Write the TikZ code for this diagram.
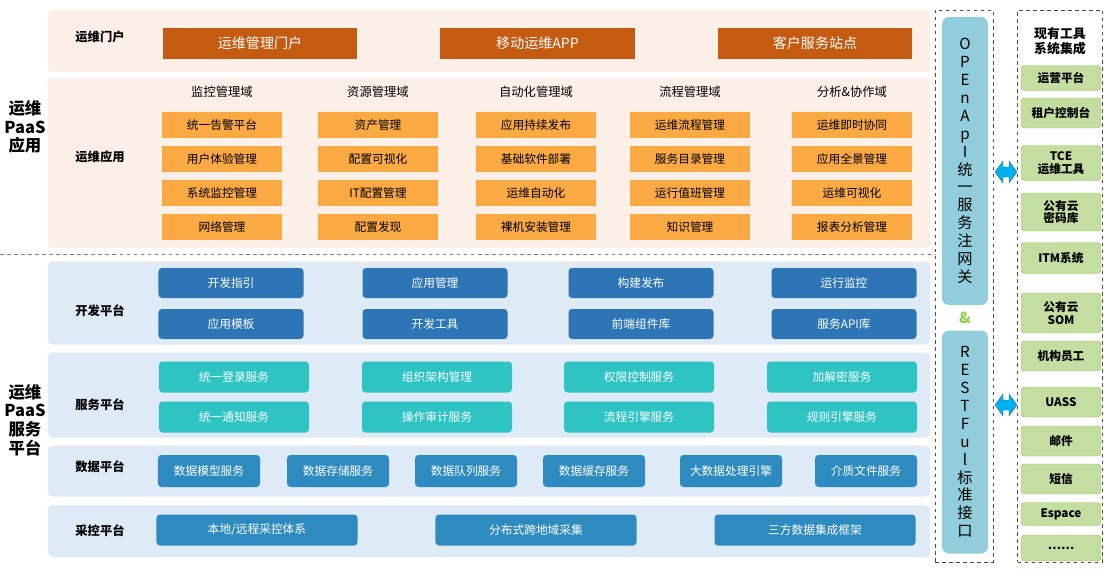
\documentclass[tikz,border=0pt]{standalone}
\usepackage{fontspec}
\setmainfont{Noto Sans CJK SC}
\usetikzlibrary{arrows.meta, positioning, calc}

\definecolor{peach}{HTML}{FCEFE7}
\definecolor{paleblue}{HTML}{DEEAF6}
\definecolor{rust}{HTML}{C55A11}
\definecolor{amber}{HTML}{FBA942}
\definecolor{navy}{HTML}{2E75B6}
\definecolor{teal}{HTML}{2EC4C4}
\definecolor{midblue}{HTML}{2E8BC0}
\definecolor{gate}{HTML}{92CDDC}
\definecolor{leaf}{HTML}{C4DDA0}
\definecolor{leafline}{HTML}{92D050}
\definecolor{sky}{HTML}{00B0F0}

\begin{document}
\begin{tikzpicture}[
  x=0.03cm, y=-0.03cm,
  panel/.style = {fill=#1, draw=none, rounded corners=4pt},
  box/.style = {fill=#1, draw=none, text=white, font=\fontsize{10}{12}\selectfont, inner sep=0pt},
  abox/.style = {fill=amber, draw=none, font=\fontsize{10}{12}\selectfont, inner sep=0pt,
    minimum width=3.6cm, minimum height=0.78cm},
  lbl/.style = {font=\bfseries\fontsize{10.5}{12}\selectfont},
  big/.style = {font=\bfseries\fontsize{14}{16}\selectfont, align=center},
  tool/.style = {fill=leaf, draw=leafline, rounded corners=3pt, font=\bfseries\fontsize{10}{11}\selectfont,
    align=center, inner sep=0pt, minimum width=2.4cm},
  dashbox/.style = {draw=black!70, dashed, thick},
  link/.style = {fill=sky, draw=navy, line join=miter}
]
\useasboundingbox (0,0) rectangle (1109,575);

% panels
\node[panel=peach, minimum width=26.46cm, minimum height=1.86cm] (portal) at (489,41) {};
\node[panel=peach, minimum width=26.46cm, minimum height=5.1cm] (apps) at (489,163) {};
\node[panel=paleblue, minimum width=26.46cm, minimum height=2.49cm] (dev) at (489,303) {};
\node[panel=paleblue, minimum width=26.46cm, minimum height=2.55cm] (svc) at (489,395) {};
\node[panel=paleblue, minimum width=26.46cm, minimum height=1.53cm] (data) at (489,471) {};
\node[panel=paleblue, minimum width=26.46cm, minimum height=1.56cm] (ctrl) at (489,531) {};
\draw[dashed, gray] (0,254) -- (935,254);

% left titles
\node[big] (paasapp) at (25,127) {运维\\PaaS\\应用};
\node[big] (paassvc) at (25,420) {运维\\PaaS\\服务\\平台};
\node[lbl] (lportal) at (100,37) {运维门户};
\node[lbl] (lapps) at (100,157) {运维应用};
\node[lbl] (ldev) at (100,311) {开发平台};
\node[lbl] (lsvc) at (100,405) {服务平台};
\node[lbl] (ldata) at (100,467) {数据平台};
\node[lbl] (lctrl) at (100,531) {采控平台};

% portal
\foreach \t [count=\i] in {运维管理门户, 移动运维APP, 客户服务站点}
  \node[box=rust, minimum width=5.84cm, minimum height=0.93cm, font=\fontsize{12}{14}\selectfont]
    (p\i) at ({260+(\i-1)*277.5},43) {\t};

% application domains
\foreach \x/\h/\a/\b/\c/\d [count=\i] in {
  222/监控管理域/统一告警平台/用户体验管理/系统监控管理/网络管理,
  378/资源管理域/资产管理/配置可视化/IT配置管理/配置发现,
  536/自动化管理域/应用持续发布/基础软件部署/运维自动化/裸机安装管理,
  690/流程管理域/运维流程管理/服务目录管理/运行值班管理/知识管理,
  852/分析\&协作域/运维即时协同/应用全景管理/运维可视化/报表分析管理} {
  \node[font=\fontsize{10.5}{12}\selectfont] (dom\i) at (\x,92) {\h};
  \node[abox] (a\i1) at (\x,125) {\a};
  \node[abox] (a\i2) at (\x,159) {\b};
  \node[abox] (a\i3) at (\x,193) {\c};
  \node[abox] (a\i4) at (\x,227) {\d};
}

% dev platform
\foreach \x/\a/\b [count=\i] in {231/开发指引/应用模板, 435/应用管理/开发工具,
  641/构建发布/前端组件库, 844/运行监控/服务API库} {
  \node[box=navy, rounded corners=3pt, minimum width=4.35cm, minimum height=0.9cm] (d\i1) at (\x,283) {\a};
  \node[box=navy, rounded corners=3pt, minimum width=4.35cm, minimum height=0.9cm] (d\i2) at (\x,324) {\b};
}

% service platform
\foreach \x/\a/\b [count=\i] in {234/统一登录服务/统一通知服务, 437/组织架构管理/操作审计服务,
  639/权限控制服务/流程引擎服务, 842/加解密服务/规则引擎服务} {
  \node[box=teal, rounded corners=3pt, minimum width=4.5cm, minimum height=0.93cm] (s\i1) at (\x,377) {\a};
  \node[box=teal, rounded corners=3pt, minimum width=4.5cm, minimum height=0.93cm] (s\i2) at (\x,417) {\b};
}

% data platform
\foreach \x/\t [count=\i] in {209/数据模型服务, 338/数据存储服务, 466/数据队列服务,
  594/数据缓存服务, 731/大数据处理引擎, 866/介质文件服务}
  \node[box=midblue, rounded corners=3pt, minimum width=3.06cm, minimum height=0.96cm] (m\i) at (\x,471) {\t};

% control platform
\foreach \x/\t [count=\i] in {257/{本地/远程采控体系}, 536/分布式跨地域采集, 815/三方数据集成框架}
  \node[box=midblue, rounded corners=3pt, minimum width=6.03cm, minimum height=0.93cm] (c\i) at (\x,530) {\t};

% gateway column
\node[dashbox, minimum width=1.74cm, minimum height=16.56cm] (gwframe) at (964,286) {};
\node[fill=gate, rounded corners=6pt, minimum width=1.38cm, minimum height=8.64cm, inner sep=0pt,
  font=\fontsize{13}{15.3}\selectfont, align=center] (gw1) at (965,161)
  {O\\P\\E\\n\\A\\p\\I\\统\\一\\服\\务\\注\\网\\关};
\node[font=\bfseries\fontsize{13}{14}\selectfont, text=leafline] (amp) at (965,318) {\&};
\node[fill=gate, rounded corners=6pt, minimum width=1.38cm, minimum height=6.69cm, inner sep=0pt,
  font=\fontsize{13}{15.3}\selectfont, align=center] (gw2) at (965,442)
  {R\\E\\S\\T\\F\\u\\l\\标\\准\\接\\口};

% existing tools column
\node[dashbox, minimum width=2.55cm, minimum height=16.56cm] (toolframe) at (1060,286) {};
\node[font=\bfseries\fontsize{11}{13}\selectfont, align=center] (tooltitle) at (1060,41) {现有工具\\系统集成};
\foreach \y/\h/\t [count=\i] in {78/0.75/运营平台, 113/0.9/租户控制台, 163/1.05/TCE\\运维工具,
  212/1.14/公有云\\密码库, 258/0.93/ITM系统, 313/1.2/公有云\\SOM, 356/0.9/机构员工,
  402/0.9/UASS, 441/0.9/邮件, 479/0.9/短信, 514/0.69/Espace, 548/0.78/……}
  \node[tool, minimum height=\h cm] (t\i) at (1061,\y) {\t};

% double arrows
\foreach \y in {172, 405}
  \draw[link] (995,\y) -- (1003,\y-11) -- (1003,\y-5) -- (1009,\y-5) -- (1009,\y-11)
    -- (1017,\y) -- (1009,\y+11) -- (1009,\y+5) -- (1003,\y+5) -- (1003,\y+11) -- cycle;
\end{tikzpicture}
\end{document}
